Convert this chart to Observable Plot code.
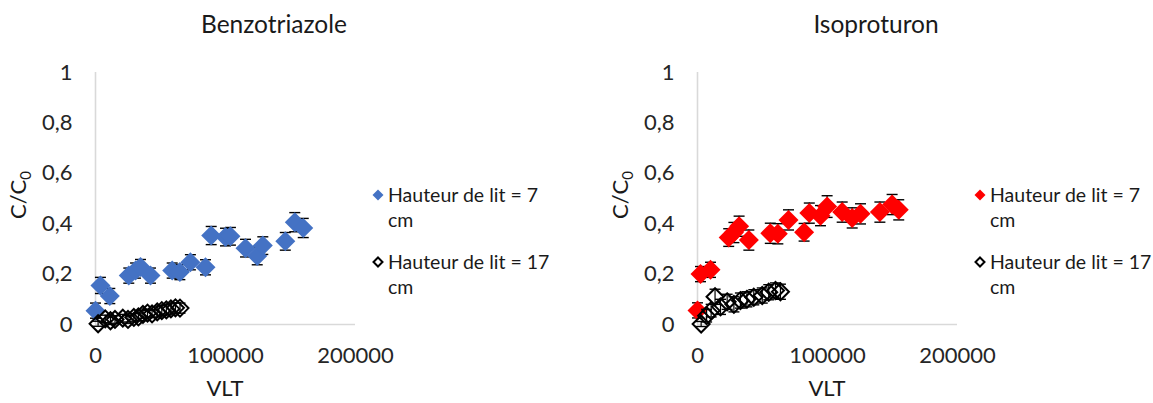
<!DOCTYPE html>
<html>
<head>
<meta charset="utf-8">
<script src="https://cdn.jsdelivr.net/npm/d3@7"></script>
<script src="https://cdn.jsdelivr.net/npm/@observablehq/plot@0.6"></script>
<style>
  body { margin: 0; background: #fff; }
  #wrap { position: relative; width: 1153px; height: 403px; overflow: hidden; font-family: Lato, sans-serif; }
  .panel { position: absolute; top: 0; }
  #overlay { position: absolute; left: 0; top: 0; }
</style>
</head>
<body>
<div id="wrap">
  <div class="panel" id="left" style="left:0px"></div>
  <div class="panel" id="right" style="left:602px"></div>
  <svg id="overlay" width="1153" height="403"></svg>
</div>
<script>
// ---------- data ----------
const xTicks = [0, 100000, 200000];
const xTickLabels = ["0", "100000", "200000"];
const yTicks = [0, 0.2, 0.4, 0.6, 0.8, 1];
const yTickLabels = ["0", "0,2", "0,4", "0,6", "0,8", "1"];

const titles = ["Benzotriazole", "Isoproturon"];
const xTitle = "VLT";
const seriesNames = ["Hauteur de lit = 7 cm", "Hauteur de lit = 17 cm"];

// Benzotriazole, bed height 7 cm
const benzo7VLT = [0, 3800, 11000, 25600, 30800, 34600, 42300, 59000, 64900, 73000, 84600, 89000, 100000, 103800, 115400, 124400, 128700, 146000, 153300, 159800];
const benzo7C   = [0.055, 0.155, 0.113, 0.194, 0.214, 0.228, 0.194, 0.214, 0.208, 0.247, 0.227, 0.353, 0.347, 0.35, 0.303, 0.272, 0.313, 0.33, 0.406, 0.383];
const benzo7Err = [0.03, 0.032, 0.03, 0.03, 0.03, 0.03, 0.03, 0.03, 0.03, 0.03, 0.03, 0.036, 0.035, 0.035, 0.035, 0.035, 0.035, 0.035, 0.038, 0.038];

// Benzotriazole, bed height 17 cm
const benzo17VLT = [2000, 7500, 11500, 15000, 21000, 25000, 29500, 33000, 36500, 40000, 43500, 47500, 51000, 54500, 58000, 61500, 65000];
const benzo17C   = [0.003, 0.022, 0.015, 0.02, 0.025, 0.02, 0.028, 0.03, 0.04, 0.045, 0.042, 0.05, 0.055, 0.058, 0.062, 0.066, 0.065];
const benzo17Err = [0.01, 0.015, 0.015, 0.015, 0.015, 0.015, 0.015, 0.015, 0.015, 0.015, 0.015, 0.02, 0.02, 0.02, 0.02, 0.02, 0.02];

// Isoproturon, bed height 7 cm
const iso7VLT = [0, 2300, 10000, 24000, 28000, 32000, 39500, 56000, 61800, 70000, 82000, 86000, 94600, 99700, 111300, 119000, 125400, 140300, 149700, 154800];
const iso7C   = [0.056, 0.2, 0.217, 0.345, 0.365, 0.39, 0.335, 0.362, 0.36, 0.415, 0.366, 0.442, 0.432, 0.468, 0.446, 0.423, 0.439, 0.446, 0.476, 0.455];
const iso7Err = [0.03, 0.03, 0.03, 0.035, 0.04, 0.04, 0.04, 0.04, 0.04, 0.04, 0.035, 0.04, 0.04, 0.043, 0.04, 0.04, 0.04, 0.04, 0.04, 0.04];

// Isoproturon, bed height 17 cm
const iso17VLT = [2800, 7000, 10500, 13500, 17700, 22800, 28000, 33000, 38000, 43300, 49800, 54800, 60000, 63800];
const iso17C   = [0.002, 0.035, 0.055, 0.11, 0.07, 0.09, 0.08, 0.095, 0.1, 0.108, 0.115, 0.128, 0.135, 0.13];
const iso17Err = [0.01, 0.025, 0.025, 0.03, 0.03, 0.03, 0.03, 0.03, 0.03, 0.03, 0.03, 0.03, 0.03, 0.03];

const colors = { benzo: "#4472C4", iso: "#FF0000" };

// ---------- helpers ----------
const rows = (xs, ys, es) => xs.map((x, i) => ({ x, c: ys[i], e: es[i] }));

const diamond = {
  draw(ctx, size) {
    const r = Math.sqrt(size / Math.PI);
    ctx.moveTo(0, -r); ctx.lineTo(r, 0); ctx.lineTo(0, r); ctx.lineTo(-r, 0); ctx.closePath();
  }
};
const cap = {
  draw(ctx, size) {
    const r = Math.sqrt(size / Math.PI);
    ctx.moveTo(-r, 0); ctx.lineTo(r, 0);
  }
};

function errorMarks(data) {
  return [
    Plot.ruleX(data, { x: "x", y1: d => d.c - d.e, y2: d => d.c + d.e, stroke: "#000", strokeWidth: 1.2 }),
    Plot.dot(data, { x: "x", y: d => d.c - d.e, symbol: cap, r: 5.5, stroke: "#000", fill: "none", strokeWidth: 1.4 }),
    Plot.dot(data, { x: "x", y: d => d.c + d.e, symbol: cap, r: 5.5, stroke: "#000", fill: "none", strokeWidth: 1.4 })
  ];
}

function chart(width, marginRight, s7, s17, color) {
  return Plot.plot({
    width, height: 403,
    marginLeft: 95, marginRight, marginTop: 72, marginBottom: 79,
    style: { fontFamily: "Lato, sans-serif", fontSize: "22px", color: "#262626", background: "transparent", overflow: "visible" },
    x: { domain: [0, 200000], ticks: xTicks, tickFormat: d => xTickLabels[xTicks.indexOf(d)], tickSize: 0, tickPadding: 23, label: null },
    y: { domain: [0, 1], ticks: yTicks, tickFormat: d => yTickLabels[yTicks.indexOf(d)], tickSize: 0, tickPadding: 23, label: null },
    marks: [
      Plot.ruleY([0], { stroke: "#d9d9d9", strokeWidth: 1.6 }),
      Plot.ruleX([0], { stroke: "#d9d9d9", strokeWidth: 1.6 }),
      ...errorMarks(s7),
      Plot.dot(s7, { x: "x", y: "c", symbol: diamond, r: 10, fill: color, stroke: "none" }),
      ...errorMarks(s17),
      Plot.dot(s17, { x: "x", y: "c", symbol: diamond, r: 8.5, fill: "none", stroke: "#000", strokeWidth: 2 })
    ]
  });
}

document.getElementById("left").append(
  chart(576, 221, rows(benzo7VLT, benzo7C, benzo7Err), rows(benzo17VLT, benzo17C, benzo17Err), colors.benzo)
);
document.getElementById("right").append(
  chart(551, 196, rows(iso7VLT, iso7C, iso7Err), rows(iso17VLT, iso17C, iso17Err), colors.iso)
);

// ---------- titles, axis titles, legends ----------
const ov = d3.select("#overlay").style("font-family", "Lato, sans-serif").attr("fill", "#1a1a1a");
const panels = [
  { off: 0, title: titles[0], color: colors.benzo },
  { off: 602, title: titles[1], color: colors.iso }
];
for (const p of panels) {
  ov.append("text").attr("x", p.off + 274).attr("y", 33).attr("text-anchor", "middle")
    .style("font-size", "24.5px").text(p.title);
  ov.append("text").attr("x", p.off + 225).attr("y", 396).attr("text-anchor", "middle")
    .style("font-size", "22px").text(xTitle);
  const yt = ov.append("text").attr("transform", `translate(${p.off + 26},195) rotate(-90)`)
    .attr("text-anchor", "middle").style("font-size", "22px");
  yt.append("tspan").text("C/C");
  yt.append("tspan").attr("dy", 5).style("font-size", "15px").text("0");

  // legend
  const lx = p.off + 378;
  const entries = [
    { y: 195, fill: p.color, stroke: "none", r: 5.5, sw: 0 },
    { y: 262, fill: "none", stroke: "#000", r: 4.5, sw: 2 }
  ];
  entries.forEach((e, i) => {
    const r = e.r;
    ov.append("path").attr("d", `M${lx},${e.y - r}L${lx + r},${e.y}L${lx},${e.y + r}L${lx - r},${e.y}Z`)
      .attr("fill", e.fill).attr("stroke", e.stroke).attr("stroke-width", e.sw);
    const words = seriesNames[i].split(" ");
    const line1 = words.slice(0, -1).join(" ");
    const line2 = words[words.length - 1];
    const t = ov.append("text").style("font-size", "19.5px");
    t.append("tspan").attr("x", lx + 10).attr("y", e.y + 7).text(line1);
    t.append("tspan").attr("x", lx + 10).attr("y", e.y + 32).text(line2);
  });
}
</script>
</body>
</html>
